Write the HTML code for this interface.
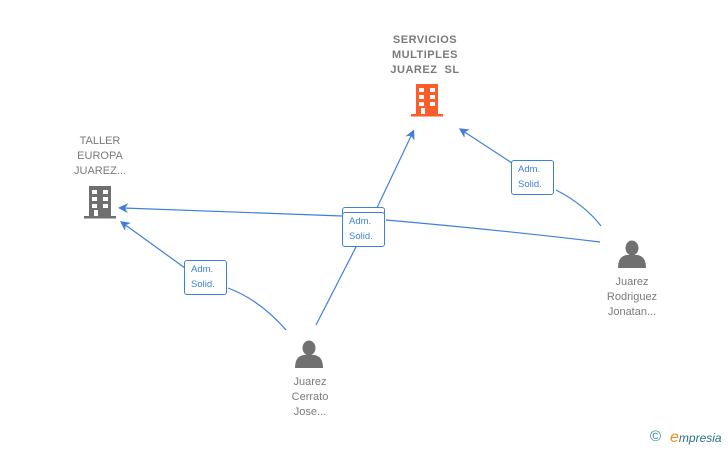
<!DOCTYPE html>
<html><head><style>
body{margin:0;width:728px;height:450px;background:#fff;overflow:hidden;font-family:"Liberation Sans",sans-serif;position:relative}
.t{position:absolute;text-align:center;color:#7a7a7a;font-size:11px;line-height:15px}
.b{font-weight:bold;letter-spacing:0.5px}
.lb{position:absolute;background:#fff;border:1px solid #3f7fdc;border-radius:3px;color:#3f7fdc;font-size:9.5px;line-height:15px;padding:1px 6px;box-sizing:border-box;width:43px;height:35px}
</style></head><body>
<svg width="728" height="450" style="position:absolute;left:0;top:0">
<defs><marker id="a" markerWidth="10" markerHeight="10" refX="5" refY="5" orient="auto" markerUnits="userSpaceOnUse"><path d="M0,0 L10,5 L0,10 L3,5 Z" fill="#3f7fdc"/></marker></defs>
<g stroke="#3f7fdc" stroke-width="1.2" fill="none">
<path d="M286,330 Q260,300 228,288" />
<path d="M185,268 L124,224" marker-end="url(#a)"/>
<path d="M316,325 L357,245"/>
<path d="M375,212 L412,134" marker-end="url(#a)"/>
<path d="M600,242 Q500,230 386,220"/>
<path d="M342,216 L123,208" marker-end="url(#a)"/>
<path d="M601,226 Q585,205 556,190"/>
<path d="M512,163 L463,131" marker-end="url(#a)"/>
</g>
<g fill="#ff5c2b">
<rect x="416" y="84" width="22" height="30"/><rect x="411" y="114" width="32" height="2.5"/>
</g>
<g fill="#fff"><rect x="419" y="88" width="5" height="4"/><rect x="430" y="88" width="5" height="4"/><rect x="419" y="95" width="5" height="4"/><rect x="430" y="95" width="5" height="4"/><rect x="419" y="102" width="5" height="4"/><rect x="430" y="102" width="5" height="4"/><rect x="421" y="108" width="4" height="6"/></g>
<g fill="#6f6f6f">
<rect x="89" y="186" width="22" height="30"/><rect x="84" y="216" width="32" height="2.5"/>
</g>
<g fill="#fff"><rect x="92" y="190" width="5" height="4"/><rect x="103" y="190" width="5" height="4"/><rect x="92" y="197" width="5" height="4"/><rect x="103" y="197" width="5" height="4"/><rect x="92" y="204" width="5" height="4"/><rect x="103" y="204" width="5" height="4"/><rect x="94" y="210" width="4" height="6"/></g>
<g fill="#707070">
<ellipse cx="309" cy="348" rx="6.5" ry="7.5"/><path d="M295,368 Q295,356 304,355 L314,355 Q323,356 323,368 Z"/>
<ellipse cx="632" cy="248" rx="6.5" ry="7.5"/><path d="M618,268 Q618,256 627,255 L637,255 Q646,256 646,268 Z"/>
</g>
</svg>
<div class="t b" style="left:370px;top:33px;width:110px">SERVICIOS<br>MULTIPLES<br>JUAREZ&nbsp; SL</div>
<div class="t" style="left:50px;top:134px;width:100px">TALLER<br>EUROPA<br>JUAREZ...</div>
<div class="t" style="left:260px;top:375px;width:100px">Juarez<br>Cerrato<br>Jose...</div>
<div class="t" style="left:582px;top:275px;width:100px">Juarez<br>Rodriguez<br>Jonatan...</div>
<div class="lb" style="left:184px;top:260px">Adm.<br>Solid.</div>
<div class="lb" style="left:511px;top:160px">Adm.<br>Solid.</div>
<div class="lb" style="left:342px;top:207px;height:33px"></div>
<div class="lb" style="left:342px;top:212px">Adm.<br>Solid.</div>
<div style="position:absolute;left:650px;top:428px;font-size:15px;color:#2a8aa0">©</div>
<div style="position:absolute;left:670px;top:429px;font-size:12px;font-style:italic;color:#2a6f85"><span style="color:#f39020;font-size:16px">e</span>mpresia</div>
</body></html>
